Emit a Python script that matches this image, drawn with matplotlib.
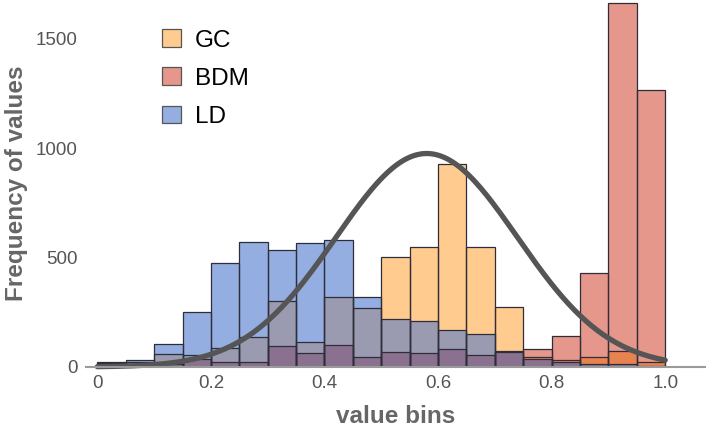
import numpy as np
import matplotlib
matplotlib.use("Agg")
import matplotlib.pyplot as plt
from matplotlib.patches import Patch

plt.rcParams["font.family"] = ["Liberation Sans", "DejaVu Sans"]

# bin edges: 20 bins of width 0.05 from 0 to 1
bin_left = np.arange(0, 1.0, 0.05)
bin_width = 0.05

# counts per bin
gc_counts = [18, 25, 60, 55, 88, 138, 303, 116, 318, 271,
             504, 546, 925, 546, 272, 47, 32, 44, 73, 24]
bdm_counts = [12, 15, 12, 35, 24, 22, 97, 65, 99, 47,
              67, 62, 81, 55, 75, 81, 141, 431, 1662, 1265]
ld_counts = [22, 32, 105, 250, 473, 571, 534, 565, 578, 318,
             218, 212, 169, 151, 67, 38, 24, 14, 12, 5]

# fitted normal curve parameters
curve_mu = 0.58
curve_sigma = 0.16
curve_peak = 975

series = {"GC": gc_counts, "BDM": bdm_counts, "LD": ld_counts}

# fill colour for each combination of overlapping series
blend = {
    frozenset(["GC"]): "#FFCB8E",
    frozenset(["BDM"]): "#E4978A",
    frozenset(["LD"]): "#94AEE2",
    frozenset(["GC", "LD"]): "#9A9AB0",
    frozenset(["GC", "BDM"]): "#E8834F",
    frozenset(["BDM", "LD"]): "#A888A2",
    frozenset(["GC", "BDM", "LD"]): "#8A7190",
}

fig = plt.figure(figsize=(7.09, 4.32), dpi=100)
ax = fig.add_axes([0.1213, 0.1505, 0.873, 0.8495])

for i, x0 in enumerate(bin_left):
    heights = sorted(((series[k][i], k) for k in series))
    bottom = 0
    present = set(series)
    for h, name in heights:
        if h > bottom:
            ax.bar(x0, h - bottom, bottom=bottom, width=bin_width, align="edge",
                   color=blend[frozenset(present)], linewidth=0)
        bottom = h
        present.discard(name)

# outlines of each series' bars
for name, vals in series.items():
    ax.bar(bin_left, vals, width=bin_width, align="edge", fill=False,
           edgecolor="#2e2e3a", linewidth=0.9)

xs = np.linspace(0, 1, 300)
ax.plot(xs, curve_peak * np.exp(-(xs - curve_mu) ** 2 / (2 * curve_sigma ** 2)),
        color="#555555", lw=3.8, solid_capstyle="round", clip_on=False)

ax.set_xlim(-0.02, 1.07)
ax.set_ylim(0, 1676)
for s in ["top", "right", "left"]:
    ax.spines[s].set_visible(False)
ax.spines["bottom"].set_color("#9a9a9a")
ax.spines["bottom"].set_linewidth(1.5)

ax.set_xticks([0, 0.2, 0.4, 0.6, 0.8, 1.0])
ax.set_xticklabels(["0", "0.2", "0.4", "0.6", "0.8", "1.0"])
ax.set_yticks([0, 500, 1000, 1500])
ax.tick_params(axis="both", length=0, labelsize=13.5, labelcolor="#555555")
ax.tick_params(axis="x", pad=6)
ax.tick_params(axis="y", pad=6)

ax.set_xlabel("value bins", fontsize=17.5, fontweight="bold", color="#666666")
ax.set_ylabel("Frequency of values", fontsize=17.5, fontweight="bold", color="#666666")
ax.xaxis.set_label_coords(0.5, -0.104)
ax.yaxis.set_label_coords(-0.093, 0.5)

handles = [Patch(facecolor=blend[frozenset([n])], edgecolor="#555555", linewidth=0.9)
           for n in ["GC", "BDM", "LD"]]
ax.legend(handles, ["GC", "BDM", "LD"], loc="upper left", bbox_to_anchor=(0.088, 0.98),
          frameon=False, fontsize=17.5, handlelength=0.75, handleheight=0.75,
          handletextpad=0.6, labelspacing=0.65)

fig.savefig("out.png", dpi=100)
